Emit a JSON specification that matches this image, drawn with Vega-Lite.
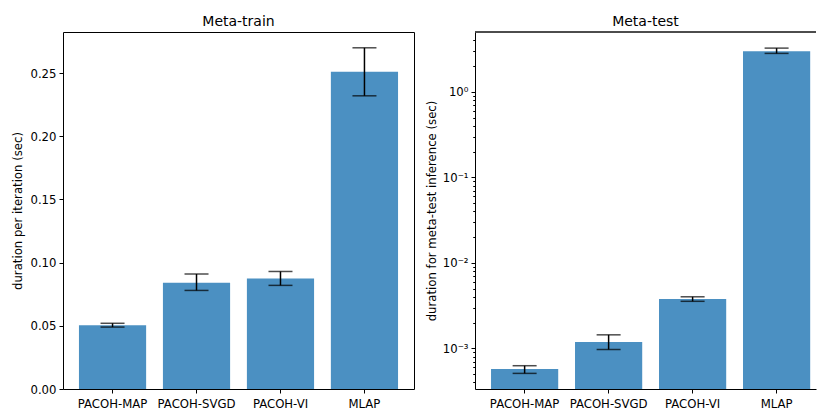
{
  "$schema": "https://vega.github.io/schema/vega-lite/v6.json",
  "padding": {"left": 12, "top": 14, "right": 0, "bottom": 0},
  "spacing": 11,
  "config": {
    "font": "DejaVu Sans",
    "view": {"stroke": "#000", "strokeWidth": 1},
    "axis": {"labelFont": "DejaVu Sans", "labelFontSize": 11.7, "labelColor": "#000", "titleFont": "DejaVu Sans", "titleFontSize": 11.7, "titleFontWeight": "normal", "titleColor": "#000", "tickColor": "#000", "tickSize": 4, "tickWidth": 1, "domain": false, "grid": false, "labelPadding": 3},
    "axisX": {"labelPadding": 5},
    "title": {"font": "DejaVu Sans", "fontSize": 14, "fontWeight": "normal", "color": "#000", "offset": 3}
  },
  "datasets": {
    "train": [
      {"method": "PACOH-MAP", "mean": 0.0505, "lo": 0.049, "hi": 0.052},
      {"method": "PACOH-SVGD", "mean": 0.084, "lo": 0.078, "hi": 0.091},
      {"method": "PACOH-VI", "mean": 0.0875, "lo": 0.082, "hi": 0.093},
      {"method": "MLAP", "mean": 0.251, "lo": 0.232, "hi": 0.270}
    ],
    "test": [
      {"method": "PACOH-MAP", "mean": 0.000573, "lo": 0.00051, "hi": 0.000627, "base": 0.000335},
      {"method": "PACOH-SVGD", "mean": 0.00119, "lo": 0.00097, "hi": 0.00144, "base": 0.000335},
      {"method": "PACOH-VI", "mean": 0.00378, "lo": 0.00355, "hi": 0.00401, "base": 0.000335},
      {"method": "MLAP", "mean": 2.97, "lo": 2.81, "hi": 3.24, "base": 0.000335}
    ]
  },
  "hconcat": [
    {
      "width": 351,
      "height": 357,
      "title": "Meta-train",
      "data": {"name": "train"},
      "encoding": {
        "x": {"field": "method", "type": "nominal", "sort": ["PACOH-MAP", "PACOH-SVGD", "PACOH-VI", "MLAP"], "scale": {"paddingInner": 0.2, "paddingOuter": 0.19, "round": false}, "axis": {"title": null, "labelAngle": 0}}
      },
      "layer": [
        {"mark": {"type": "bar", "color": "#4b90c2"}, "encoding": {"y": {"field": "mean", "type": "quantitative", "scale": {"domain": [0, 0.2825], "nice": false}, "axis": {"title": "duration per iteration (sec)", "values": [0, 0.05, 0.1, 0.15, 0.2, 0.25], "format": ".2f", "titlePadding": 6}}}},
        {"mark": {"type": "rule", "color": "#000", "strokeWidth": 1.5}, "encoding": {"y": {"field": "lo", "type": "quantitative"}, "y2": {"field": "hi"}}},
        {"mark": {"type": "tick", "color": "#000", "thickness": 1.5, "size": 24}, "encoding": {"y": {"field": "lo", "type": "quantitative"}}},
        {"mark": {"type": "tick", "color": "#000", "thickness": 1.5, "size": 24}, "encoding": {"y": {"field": "hi", "type": "quantitative"}}}
      ]
    },
    {
      "width": 341,
      "height": 357,
      "title": "Meta-test",
      "view": {"stroke": null},
      "data": {"name": "test"},
      "encoding": {
        "x": {"field": "method", "type": "nominal", "sort": ["PACOH-MAP", "PACOH-SVGD", "PACOH-VI", "MLAP"], "scale": {"paddingInner": 0.2, "paddingOuter": 0.13, "align": 0.734, "round": false}, "axis": {"title": null, "labelAngle": 0, "domain": true, "domainColor": "#000", "domainWidth": 1}}
      },
      "layer": [
        {"mark": {"type": "bar", "color": "#4b90c2", "clip": true}, "encoding": {
          "y": {"field": "mean", "type": "quantitative", "scale": {"type": "log", "domain": [0.000335, 5], "nice": false, "zero": false}, "axis": {"title": "duration for meta-test inference (sec)", "titlePadding": 5, "domain": true, "domainColor": "#000", "domainWidth": 1,
          "values": [0.0004, 0.0005, 0.0006, 0.0007, 0.0008, 0.0009, 0.001, 0.002, 0.003, 0.004, 0.005, 0.006, 0.007, 0.008, 0.009, 0.01, 0.02, 0.03, 0.04, 0.05, 0.06, 0.07, 0.08, 0.09, 0.1, 0.2, 0.3, 0.4, 0.5, 0.6, 0.7, 0.8, 0.9, 1, 2, 3, 4],
          "labelExpr": "datum.value == 1 ? '10⁰' : datum.value == 0.1 ? '10⁻¹' : datum.value == 0.01 ? '10⁻²' : datum.value == 0.001 ? '10⁻³' : ''",
          "tickSize": {"condition": {"test": "datum.value == 1 || datum.value == 0.1 || datum.value == 0.01 || datum.value == 0.001", "value": 4}, "value": 2.3}}},
          "y2": {"field": "base"}}},
        {"mark": {"type": "rule", "color": "#000", "strokeWidth": 1.5}, "encoding": {"y": {"field": "lo", "type": "quantitative"}, "y2": {"field": "hi"}}},
        {"mark": {"type": "tick", "color": "#000", "thickness": 1.5, "size": 24}, "encoding": {"y": {"field": "lo", "type": "quantitative"}}},
        {"mark": {"type": "tick", "color": "#000", "thickness": 1.5, "size": 24}, "encoding": {"y": {"field": "hi", "type": "quantitative"}}},
        {"mark": {"type": "rule", "color": "#333", "strokeWidth": 0.8}, "encoding": {"y": {"datum": 5}, "x": {"value": 0}, "x2": {"value": 341}}}
      ]
    }
  ]
}
